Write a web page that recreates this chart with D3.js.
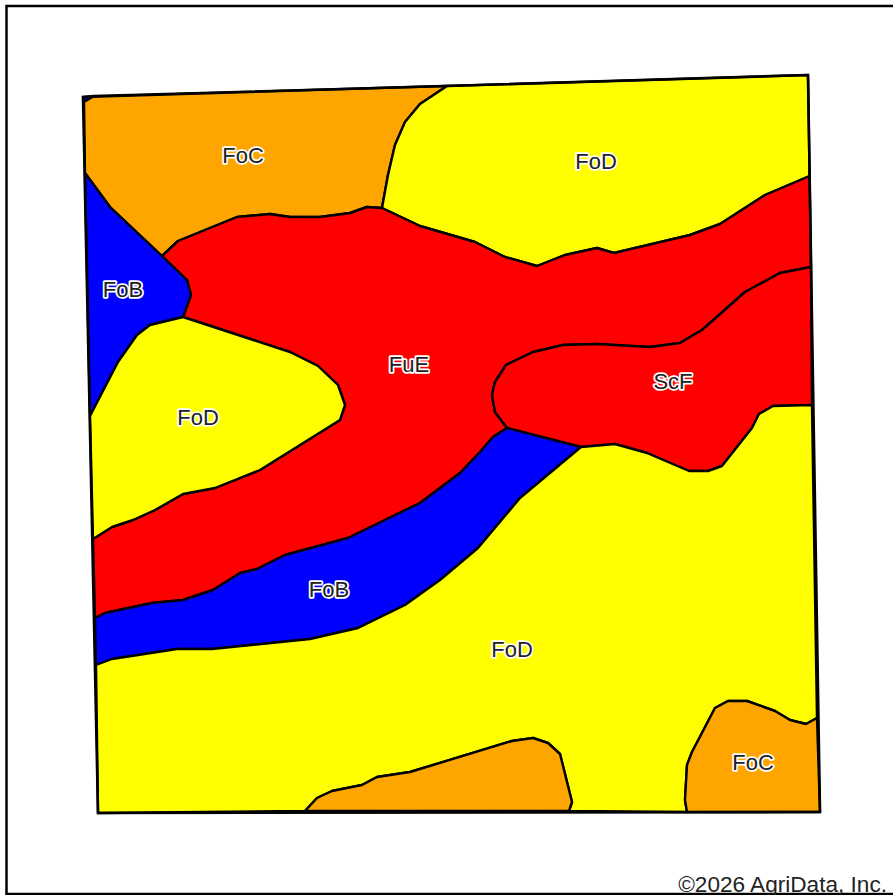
<!DOCTYPE html>
<html>
<head>
<meta charset="utf-8">
<script src="https://cdn.jsdelivr.net/npm/d3@7"></script>
<style>
  html, body { margin: 0; padding: 0; background: #fff; overflow: hidden; }
  text { font-family: "Liberation Sans", Arial, sans-serif; }
</style>
</head>
<body>
<div id="map"></div>
<script>
// soil polygons, in map units
var cornerB = [[83,97],[94,96],[84,102]];
var focTop = [[94,96],[447,86],[420,104],[405,122],[395,145],[388,175],[382,208],[367,207],[350,213],[320,217],[290,217],[270,214],[237,217],[178,241],[162,256],[110,207],[85,173],[84,102]];
var fodTop = [[447,86],[808,75],[809.6,176],[765,195],[720,224],[690,235],[614,253],[597,248],[565,255],[537,266],[505,257],[475,242],[420,226],[382,208],[388,175],[395,145],[405,122],[420,104]];
var fue = [[162,256],[178,241],[237,217],[270,214],[290,217],[320,217],[350,213],[367,207],[382,208],[420,226],[475,242],[505,257],[537,266],[565,255],[597,248],[614,253],[690,235],[720,224],[765,195],[809.6,176],[811,267],[780,273],[745,292],[702,330],[680,343],[650,347],[597,344],[563,345],[533,352],[506,365],[495,382],[492,395],[495,412],[507,428],[493,437],[480,452],[460,473],[420,503],[385,520],[348,538],[285,555],[257,569],[240,573],[213,590],[183,600],[152,603],[105,613],[95,618],[93,539],[112,527],[133,520],[155,510],[183,494],[215,488],[260,470],[340,420],[345,405],[338,385],[318,366],[290,352],[183,317],[191,295],[187,280]];
var scf = [[811,267],[812,405],[773,406],[759,414],[752,428],[722,466],[708,471],[689,471],[647,453],[615,444],[581,447],[507,428],[495,412],[492,395],[495,382],[506,365],[533,352],[563,345],[597,344],[650,347],[680,343],[702,330],[745,292],[780,273]];
var fobLeft = [[85,173],[110,207],[162,256],[187,280],[191,295],[183,317],[150,325],[137,335],[118,362],[90,416]];
var fodLeft = [[183,317],[290,352],[318,366],[338,385],[345,405],[340,420],[260,470],[215,488],[183,494],[155,510],[133,520],[112,527],[93,539],[90,416],[118,362],[137,335],[150,325]];
var fobLow = [[507,428],[581,447],[520,498],[478,548],[440,580],[405,605],[358,628],[310,639],[212,649],[177,649],[112,659],[96,665],[95,618],[105,613],[152,603],[183,600],[213,590],[240,573],[257,569],[285,555],[348,538],[385,520],[420,503],[460,473],[480,452],[493,437]];
var fodLow = [[581,447],[615,444],[647,453],[689,471],[708,471],[722,466],[752,428],[759,414],[773,406],[812,405],[817,718],[806,724],[790,720],[775,711],[747,701],[728,701],[715,708],[692,752],[687,765],[685,800],[687,812],[569,811],[572,802],[560,754],[548,743],[533,738],[512,741],[410,772],[377,777],[362,785],[332,791],[317,798],[305,811],[98,813],[96,665],[112,659],[177,649],[212,649],[310,639],[358,628],[405,605],[440,580],[478,548],[520,498]];
var focMid = [[305,811],[317,798],[332,791],[362,785],[377,777],[410,772],[512,741],[533,738],[548,743],[560,754],[572,802],[569,811]];
var focRight = [[687,812],[685,800],[687,765],[692,752],[715,708],[728,701],[747,701],[775,711],[790,720],[806,724],[817,718],[820,812]];
var boundary = [[83,97],[808,75],[820,812],[98,813]];

var polygons = [cornerB, focTop, fodTop, fue, scf, fobLeft, fodLeft, fobLow, fodLow, focMid, focRight];
var soilCodes = ["FoB", "FoC", "FoD", "FuE", "ScF", "FoB", "FoD", "FoB", "FoD", "FoC", "FoC"];

var labelNames = ["FoC", "FoD", "FoB", "FuE", "ScF", "FoD", "FoB", "FoD", "FoC"];
var labelX = [243, 596, 123, 409, 673, 198, 329, 512, 753];
var labelY = [155, 161, 289, 364, 381, 417, 589, 649, 762];

var codeList = ["FoB", "FoC", "FoD", "FuE", "ScF"];
var codeColors = ["#0000ff", "#ffa500", "#ffff00", "#ff0000", "#ff0000"];

var svgWidth = 893;
var svgHeight = 895;

var svg = d3.select("#map")
  .append("svg")
  .attr("width", svgWidth)
  .attr("height", svgHeight)
  .style("display", "block");

var x = d3.scaleLinear().domain([0, 893]).range([0, svgWidth]);
var y = d3.scaleLinear().domain([0, 895]).range([0, svgHeight]);
var color = d3.scaleOrdinal().domain(codeList).range(codeColors);

var line = d3.line()
  .x(d => x(d[0]))
  .y(d => y(d[1]))
  .curve(d3.curveLinearClosed);

// page frame, runs off the right side
svg.append("rect")
  .attr("x", 6.5)
  .attr("y", 6)
  .attr("width", 900)
  .attr("height", 888)
  .attr("fill", "#fff")
  .attr("stroke", "#000")
  .attr("stroke-width", 2.5);

// soil polygons
svg.selectAll("path.soil")
  .data(polygons)
  .enter()
  .append("path")
  .attr("class", "soil")
  .attr("d", line)
  .attr("fill", (d, i) => color(soilCodes[i]))
  .attr("stroke", "#000")
  .attr("stroke-width", 2.4)
  .attr("stroke-linejoin", "round");

svg.append("path")
  .attr("d", line(boundary))
  .attr("fill", "none")
  .attr("stroke", "#000")
  .attr("stroke-width", 2.6);

// labels with a white halo
svg.selectAll("text.label")
  .data(labelNames)
  .enter()
  .append("text")
  .attr("class", "label")
  .attr("x", (d, i) => x(labelX[i]))
  .attr("y", (d, i) => y(labelY[i]))
  .attr("dy", "0.36em")
  .attr("text-anchor", "middle")
  .style("font-size", "22px")
  .style("paint-order", "stroke")
  .attr("fill", "#222")
  .attr("stroke", "#fff")
  .attr("stroke-width", 3.5)
  .attr("stroke-linejoin", "round")
  .text(d => d);

svg.append("text")
  .attr("x", 887)
  .attr("y", 892)
  .attr("text-anchor", "end")
  .style("font-size", "22.6px")
  .attr("fill", "#222")
  .text("©2026 AgriData, Inc.");
</script>
</body>
</html>
